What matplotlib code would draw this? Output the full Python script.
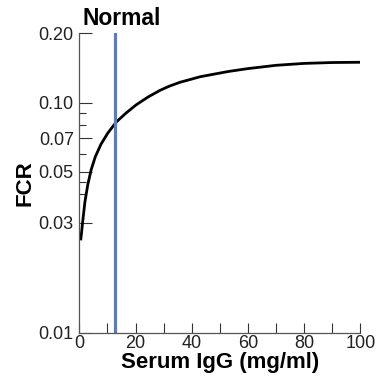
import numpy as np
import matplotlib
matplotlib.use('Agg')
import matplotlib.pyplot as plt
from matplotlib.ticker import FixedLocator, NullFormatter

plt.rcParams['font.family'] = ['Liberation Sans', 'DejaVu Sans']

# values
igg = [0.5, 1.2, 2.0, 3.0, 4.2, 5.7, 7.7, 10.1, 13.1, 16.6, 20.2, 24.5, 28.7,
       32.0, 35.8, 43.0, 53.0, 60.0, 70.0, 80.0, 90.0, 100.0]
fcr = [0.0252, 0.0304, 0.0371, 0.0439, 0.051, 0.0582, 0.0659, 0.0736, 0.0822,
       0.090, 0.0977, 0.1058, 0.1130, 0.1178, 0.1225, 0.1295, 0.1365, 0.1405,
       0.1452, 0.148, 0.1493, 0.1497]
normal_igg = 12.7

y_major = [0.01, 0.03, 0.05, 0.07, 0.10, 0.20]
y_labels = ['0.01', '0.03', '0.05', '0.07', '0.10', '0.20']
y_minor = [0.04, 0.045, 0.06, 0.08, 0.09]
x_major = [0, 20, 40, 60, 80, 100]
x_minor = [10, 30, 50, 70, 90]

fig = plt.figure(figsize=(3.77, 3.91), dpi=100)
ax = fig.add_axes([0.2104, 0.1491, 0.7453, 0.7657])

ax.plot(igg, fcr, color='black', lw=2.0, solid_capstyle='butt',
        solid_joinstyle='round')
ax.axvline(normal_igg, color='#5b7cc2', lw=2.3)

ax.set_yscale('log')
ax.set_xlim(0, 100)
ax.set_ylim(0.01, 0.20)

ax.yaxis.set_major_locator(FixedLocator(y_major))
ax.set_yticklabels(y_labels)
ax.yaxis.set_minor_locator(FixedLocator(y_minor))
ax.yaxis.set_minor_formatter(NullFormatter())
ax.set_xticks(x_major)
ax.xaxis.set_minor_locator(FixedLocator(x_minor))

ax.tick_params(axis='y', which='major', direction='in', length=9, width=0.8,
               labelsize=13, pad=4, colors='#333333', labelcolor='#222222')
ax.tick_params(axis='y', which='minor', direction='in', length=5, width=0.8,
               colors='#333333')
ax.tick_params(axis='x', which='both', direction='in', length=7, width=0.8,
               labelsize=13, pad=2, colors='#333333', labelcolor='#222222')

for s in ['top', 'right']:
    ax.spines[s].set_visible(False)
for s in ['left', 'bottom']:
    ax.spines[s].set_color('#555555')
    ax.spines[s].set_linewidth(0.9)

ax.set_xlabel('Serum IgG (mg/ml)', fontsize=16, fontweight='bold', labelpad=0)
ax.set_ylabel('FCR', fontsize=16, fontweight='bold', labelpad=2)
ax.text(15, 0.207, 'Normal', ha='center', va='bottom', fontsize=16.5,
        fontweight='bold')

fig.savefig('out.png', dpi=100)
